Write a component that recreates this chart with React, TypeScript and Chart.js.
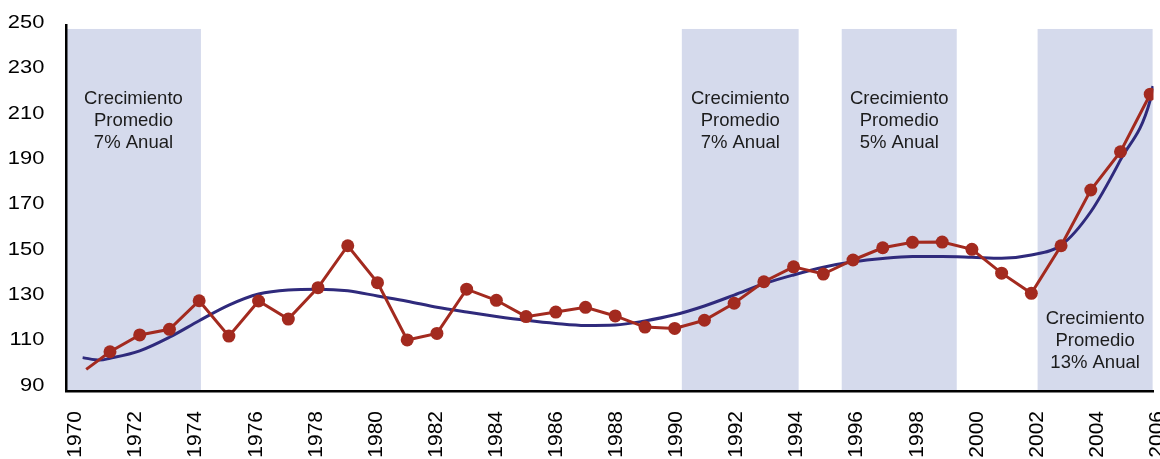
import React, { useEffect, useRef } from 'react';
import { Chart, registerables } from 'chart.js';

Chart.register(...registerables);

const FONT = '"Liberation Sans", Arial, Helvetica, sans-serif';

// Observed series (red line with markers); first entry is the unmarked line start
const years = [1970.2, 1971, 1972, 1973, 1974, 1975, 1976, 1977, 1978, 1979, 1980, 1981, 1982, 1983, 1984, 1985, 1986, 1987, 1988, 1989, 1990, 1991, 1992, 1993, 1994, 1995, 1996, 1997, 1998, 1999, 2000, 2001, 2002, 2003, 2004, 2005, 2006];
const values = [97.2, 105.0, 112.4, 114.9, 127.5, 111.9, 127.4, 119.4, 133.3, 151.8, 135.5, 110.2, 113.1, 132.6, 127.7, 120.5, 122.5, 124.6, 120.8, 115.9, 115.3, 118.9, 126.4, 135.9, 142.5, 139.3, 145.5, 150.9, 153.3, 153.4, 150.2, 139.7, 130.8, 151.8, 176.4, 193.3, 218.7];

// Trend (smooth blue line)
const trendYears = [1970.08, 1970.66, 1971, 1972, 1973, 1974, 1975, 1976, 1977, 1978, 1979, 1980, 1981, 1982, 1983, 1984, 1985, 1986, 1987, 1988, 1989, 1990, 1991, 1992, 1993, 1994, 1995, 1996, 1997, 1998, 1999, 2000, 2001, 2002, 2003, 2004, 2005, 2006, 2006.09];
const trendValues = [102.4, 101.3, 102.1, 105.4, 111.4, 118.7, 125.6, 130.5, 132.3, 132.6, 131.9, 129.6, 127.3, 124.6, 122.5, 120.6, 118.9, 117.5, 116.6, 116.8, 118.6, 121.3, 125.2, 130.0, 135.0, 138.9, 142.3, 144.7, 146.2, 147.0, 147.0, 146.7, 146.3, 147.7, 152.0, 166.8, 189.7, 216.1, 222.3];

const xTickLabels = ['1970', '1972', '1974', '1976', '1978', '1980', '1982', '1984', '1986', '1988', '1990', '1992', '1994', '1996', '1998', '2000', '2002', '2004', '2006'];
const yTickValues = [90, 110, 130, 150, 170, 190, 210, 230, 250];

// Shaded growth periods
const bandStarts = [1969.52, 1990.24, 1995.62, 2002.21];
const bandEnds = [1974.06, 1994.17, 1999.49, 2006.08];
const bandTop = 247.5;
const bandTitle = ['Crecimiento', 'Promedio'];
const bandRates = ['7% Anual', '7% Anual', '5% Anual', '13% Anual'];
const bandTextValues = [216.4, 216.4, 216.4, 119.3];

const RED = '#a32a1f';
const BLUE = '#2f2a7c';
const BAND = '#d5daec';

const bandsPlugin = {
  id: 'bands',
  beforeDraw(chart: any) {
    const { ctx, chartArea, scales } = chart;
    const x = scales.x;
    const y = scales.y;
    ctx.save();
    const boxes = bandStarts.map((s, i) => {
      const x0 = Math.max(x.getPixelForValue(s), chartArea.left);
      const x1 = Math.min(x.getPixelForValue(bandEnds[i]), chartArea.right);
      return [x0, x1];
    });
    ctx.fillStyle = BAND;
    const y0 = y.getPixelForValue(bandTop);
    boxes.forEach(([x0, x1]) => {
      ctx.fillRect(x0, y0, x1 - x0, chartArea.bottom - y0);
    });
    ctx.fillStyle = '#1c1c1c';
    ctx.font = `18.5px ${FONT}`;
    ctx.textAlign = 'center';
    ctx.textBaseline = 'middle';
    boxes.forEach(([x0, x1], i) => {
      const cx = (x0 + x1) / 2;
      const cy = y.getPixelForValue(bandTextValues[i]);
      const lines = [...bandTitle, bandRates[i]];
      lines.forEach((t, j) => ctx.fillText(t, cx, cy + j * 22));
    });
    ctx.restore();
  },
};

const yLabelsPlugin = {
  id: 'ylabels',
  afterDraw(chart: any) {
    const { ctx, chartArea } = chart;
    const y = chart.scales.y;
    ctx.save();
    ctx.fillStyle = '#000';
    ctx.font = `17.5px ${FONT}`;
    ctx.textAlign = 'right';
    ctx.textBaseline = 'middle';
    y.ticks.forEach((t: any) => {
      const py = y.getPixelForValue(t.value);
      ctx.save();
      ctx.translate(chartArea.left - 21.7, py);
      ctx.scale(1.25, 1);
      ctx.fillText(String(t.value), 0, 0);
      ctx.restore();
    });
    ctx.restore();
  },
};

export default function App() {
  const canvasRef = useRef<HTMLCanvasElement | null>(null);

  useEffect(() => {
    if (!canvasRef.current) return;
    const chart = new Chart(canvasRef.current, {
      type: 'line',
      data: {
        datasets: [
          {
            label: 'Valor',
            data: years.map((yr, i) => ({ x: yr, y: values[i] })),
            borderColor: RED,
            backgroundColor: RED,
            borderWidth: 3,
            pointRadius: (ctx: any) => (ctx.dataIndex === 0 ? 0 : 6.5),
            pointBackgroundColor: RED,
            pointBorderWidth: 0,
            tension: 0,
            xAxisID: 'x',
            yAxisID: 'y',
            order: 0,
          },
          {
            label: 'Tendencia',
            data: trendYears.map((yr, i) => ({ x: yr, y: trendValues[i] })),
            borderColor: BLUE,
            borderWidth: 3,
            pointRadius: 0,
            cubicInterpolationMode: 'monotone',
            xAxisID: 'x',
            yAxisID: 'y',
            order: 1,
          },
        ],
      },
      options: {
        animation: false,
        responsive: false,
        devicePixelRatio: 1,
        layout: { padding: { top: 25, right: 6, left: 0, bottom: 0 } },
        plugins: { legend: { display: false }, tooltip: { enabled: false } },
        scales: {
          x: { type: 'linear', min: 1969.52, max: 2006.11, display: false },
          xl: {
            type: 'linear',
            position: 'bottom',
            min: 1969.684,
            max: 2005.88,
            grid: { display: false, drawTicks: false },
            border: { display: true, color: '#000', width: 2.5 },
            ticks: {
              autoSkip: false,
              maxRotation: 90,
              minRotation: 90,
              padding: 20,
              color: '#000',
              font: { family: FONT, size: 21 },
              callback: (v: any) => String(v),
            },
            afterBuildTicks: (s: any) => {
              s.ticks = xTickLabels.map((l) => ({ value: Number(l) }));
            },
            afterFit: (s: any) => {
              s.height = 68;
              s.paddingLeft = 0;
              s.paddingRight = 0;
            },
          },
          y: {
            type: 'linear',
            min: 87.66,
            max: 249.25,
            grid: { display: false, drawTicks: false },
            border: { display: true, color: '#000', width: 2.5 },
            ticks: { display: false },
            afterBuildTicks: (s: any) => {
              s.ticks = yTickValues.map((v) => ({ value: v }));
            },
            afterFit: (s: any) => {
              s.width = 66;
              s.paddingTop = 0;
              s.paddingBottom = 0;
            },
          },
        },
      } as any,
      plugins: [bandsPlugin, yLabelsPlugin],
    });
    return () => chart.destroy();
  }, []);

  return (
    <div style={{ position: 'fixed', left: 0, top: 0, width: 1160, height: 459, overflow: 'hidden', background: '#fff' }}>
      <canvas ref={canvasRef} width={1160} height={459} style={{ display: 'block' }} />
    </div>
  );
}
